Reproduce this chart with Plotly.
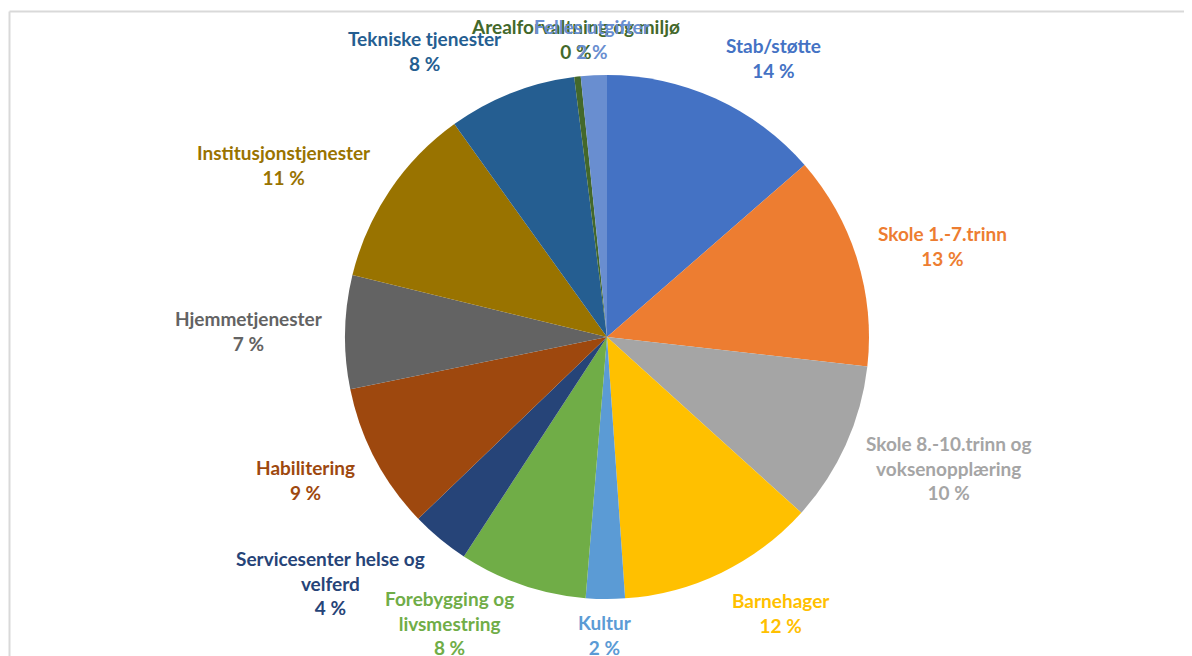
import math
import plotly.graph_objects as go

categories = ["Stab/støtte", "Skole 1.-7.trinn", "Skole 8.-10.trinn og voksenopplæring",
              "Barnehager", "Kultur", "Forebygging og livsmestring",
              "Servicesenter helse og velferd", "Habilitering", "Hjemmetjenester",
              "Institusjonstjenester", "Tekniske tjenester", "Arealforvaltning og miljø",
              "Felles utgifter"]
display_labels = ["Stab/støtte", "Skole 1.-7.trinn", "Skole 8.-10.trinn og<br>voksenopplæring",
                  "Barnehager", "Kultur", "Forebygging og<br>livsmestring",
                  "Servicesenter helse og<br>velferd", "Habilitering", "Hjemmetjenester",
                  "Institusjonstjenester", "Tekniske tjenester", "Arealforvaltning og miljø",
                  "Felles utgifter"]
values = [13.6, 13.2, 9.9, 12.2, 2.4, 7.9, 3.6, 9.0, 7.0, 11.3, 7.9, 0.4, 1.6]
colors = ["#4472C4", "#ED7D31", "#A5A5A5", "#FFC000", "#5B9BD5", "#70AD47",
          "#264478", "#9E480E", "#636363", "#997300", "#255E91", "#43682B", "#698ED0"]

W, H = 1192, 656
OFF = 8                    # page offset of the figure (body margin)
CX, CY, R = 607 - OFF, 337 - OFF, 262   # pie centre / radius in figure pixels
GAP = 20
LINE_H = 25
TOP_LIMIT, BOTTOM_LIMIT = 14 - OFF, 660 - OFF

def px_to_paper(fx, fy):
    return fx / W, 1 - fy / H

total = sum(values)
pct_text = [f"{round(v / total * 100)} %" for v in values]

fig = go.Figure(go.Pie(
    labels=categories,
    values=values,
    textinfo="none",
    sort=False,
    direction="clockwise",
    rotation=0,
    marker=dict(colors=colors, line=dict(width=0)),
    showlegend=False,
    hoverinfo="label+percent",
    domain=dict(x=[(CX - R) / W, (CX + R) / W], y=[1 - (CY + R) / H, 1 - (CY - R) / H]),
))

annotations = []
cum = 0.0
for lab, p, v, c in zip(display_labels, pct_text, values, colors):
    mid = (cum + v / 2) / total * 2 * math.pi
    cum += v
    s, co = math.sin(mid), math.cos(mid)
    fx = CX + (R + GAP) * s
    fy = CY - (R + GAP) * co
    nlines = lab.count("<br>") + 2
    h = nlines * LINE_H
    cy = fy - (h / 2) * co
    cy = max(cy, TOP_LIMIT + h / 2)
    cy = min(cy, BOTTOM_LIMIT - h / 2)
    x, y = px_to_paper(fx, cy)
    xa = "left" if s > 0.3 else ("right" if s < -0.3 else "center")
    annotations.append(dict(
        x=x, y=y, xref="paper", yref="paper", xanchor=xa, yanchor="middle",
        text=f"<b>{lab}<br>{p}</b>", showarrow=False, align="center",
        font=dict(family="Lato", size=19, color=c),
    ))

bx, by = px_to_paper(9.5 - OFF, 11.5 - OFF)
fig.update_layout(
    width=W, height=H,
    margin=dict(l=0, r=0, t=0, b=0),
    paper_bgcolor="white",
    plot_bgcolor="white",
    annotations=annotations,
    shapes=[
        dict(type="line", xref="paper", yref="paper", x0=bx, y0=by, x1=1.05, y1=by,
             line=dict(color="#D9D9D9", width=2)),
        dict(type="line", xref="paper", yref="paper", x0=bx, y0=-0.05, x1=bx, y1=by,
             line=dict(color="#D9D9D9", width=2)),
    ],
)

fig.write_html("out.html")
